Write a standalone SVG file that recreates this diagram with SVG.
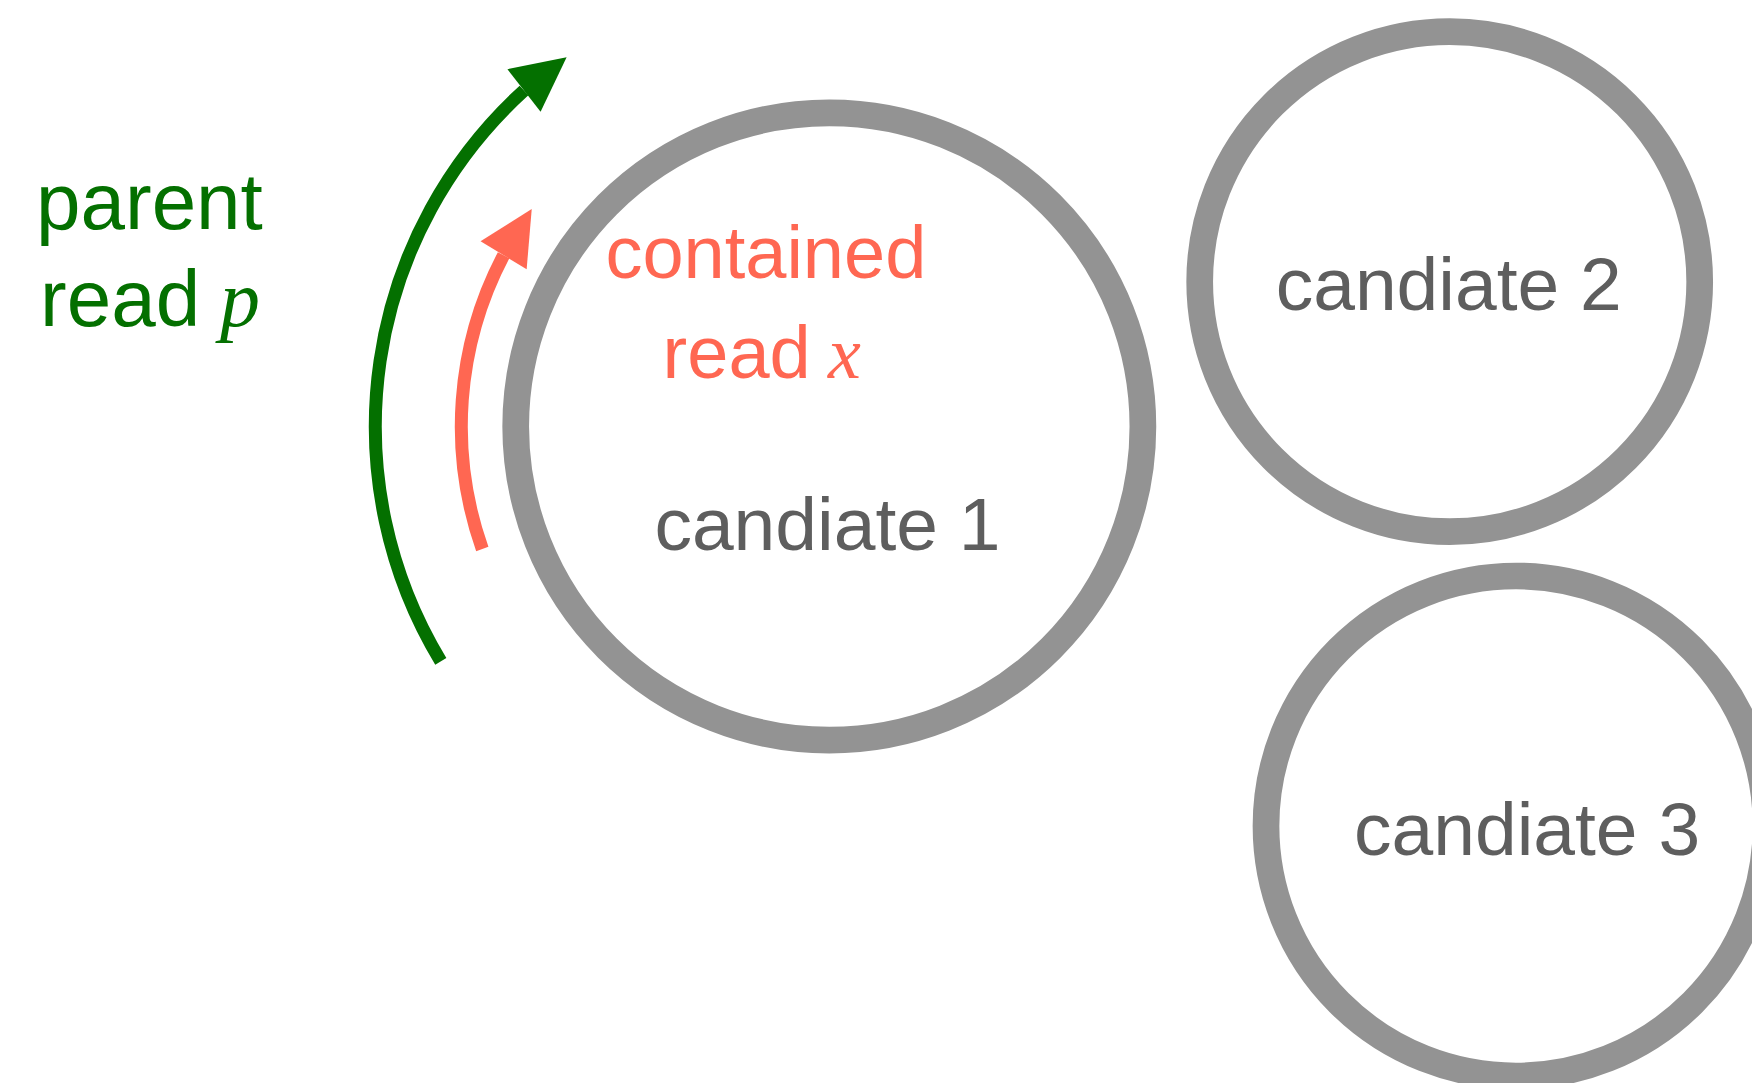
<svg xmlns="http://www.w3.org/2000/svg" width="1752" height="1083" viewBox="0 0 1752 1083">
  <style>
    .ring { fill: #ffffff; stroke: #939393; stroke-width: 26.7; }
    .label { font-family: "Liberation Sans", Arial, Helvetica, sans-serif; }
    .cand { fill: #5e5e5e; font-size: 75px; }
    .parent { fill: #047000; font-size: 80px; }
    .contained { fill: #ff6752; font-size: 74px; }
    .math { font-family: "Liberation Serif", "Times New Roman", serif; font-style: italic; }
    .arc { fill: none; stroke-width: 13; stroke-linecap: butt; }
  </style>
  <defs>
    <marker id="headGreen" markerUnits="userSpaceOnUse" markerWidth="54" markerHeight="54" refX="0" refY="27" orient="-37.9" overflow="visible">
      <path d="M0,0 L54,27 L0,54 Z" fill="#047000"/>
    </marker>
    <marker id="headRed" markerUnits="userSpaceOnUse" markerWidth="54" markerHeight="54" refX="0" refY="27" orient="-58.6" overflow="visible">
      <path d="M0,0 L54,27 L0,54 Z" fill="#ff6752"/>
    </marker>
  </defs>

  <rect width="1752" height="1083" fill="#ffffff"/>

  <!-- reads running along the first candidate -->
  <g id="connectors">
    <path id="parent-arc" class="arc" stroke="#047000" d="M440.8,661.4 A454,454 0 0 1 524,90.5" marker-end="url(#headGreen)"/>
    <path id="contained-arc" class="arc" stroke="#ff6752" d="M482.3,549 A368,368 0 0 1 503.6,255.2" marker-end="url(#headRed)"/>
  </g>

  <g id="candidate-1">
    <circle class="ring" cx="829.3" cy="426.5" r="313.6"/>
    <text class="label contained" x="605.4" y="278">contained</text>
    <text class="label contained" x="662.6" y="378">read <tspan class="math" x="828">x</tspan></text>
    <text class="label cand" x="654.4" y="550">candiate 1</text>
  </g>

  <g id="candidate-2">
    <circle class="ring" cx="1449.7" cy="281.7" r="250"/>
    <text class="label cand" x="1275.7" y="310">candiate 2</text>
  </g>

  <g id="candidate-3">
    <circle class="ring" cx="1516" cy="826" r="250"/>
    <text class="label cand" x="1354" y="855">candiate 3</text>
  </g>

  <g id="parent-read">
    <text class="label parent" x="36" y="229">parent</text>
    <text class="label parent" x="40" y="326">read <tspan class="math" x="220">p</tspan></text>
  </g>
</svg>
